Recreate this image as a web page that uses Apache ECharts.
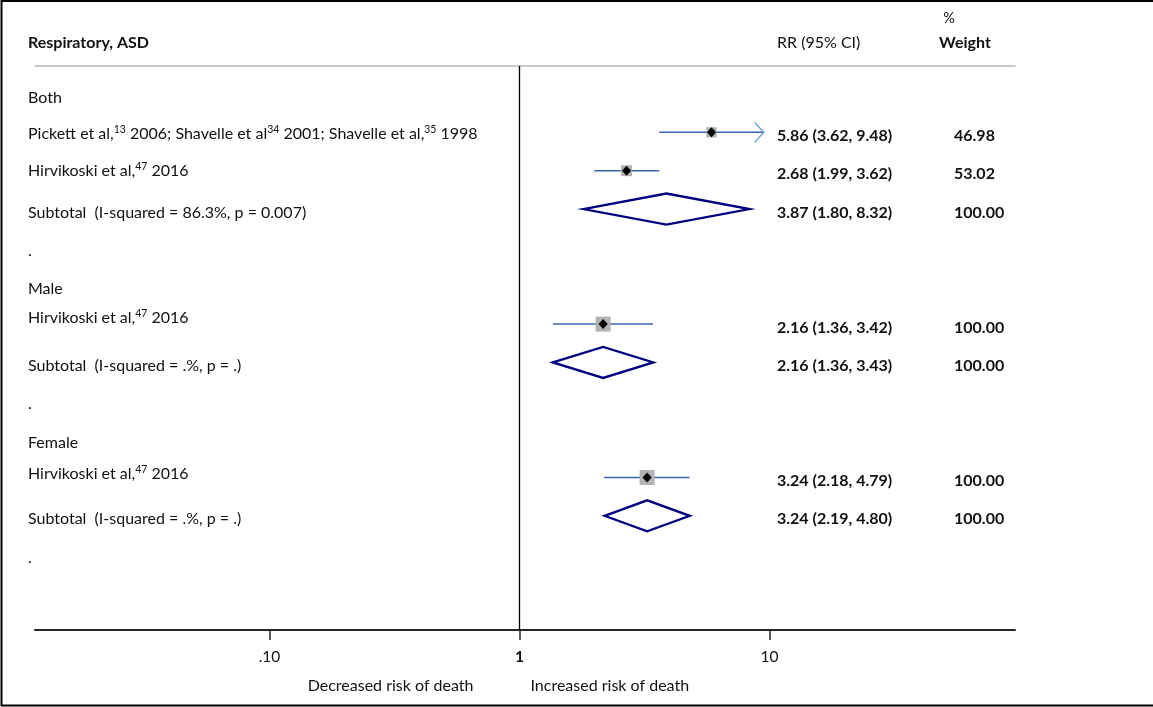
<!DOCTYPE html>
<html>
<head>
<meta charset="utf-8">
<title>Respiratory, ASD</title>
<script src="https://cdn.jsdelivr.net/npm/echarts@6/dist/echarts.min.js"></script>
<style>
  html, body { margin: 0; padding: 0; background: #fff; }
  #chart { width: 1153px; height: 707px; }
</style>
</head>
<body>
<div id="chart"></div>
<script>
// ---- data -------------------------------------------------------------
const groupNames = ['Both', 'Male', 'Female'];

const studyGroup  = [0, 0, 1, 2];
const studyLabels = [
  'Pickett et al,{sup|13} 2006; Shavelle et al{sup|34} 2001; Shavelle et al,{sup|35} 1998',
  'Hirvikoski et al,{sup|47} 2016',
  'Hirvikoski et al,{sup|47} 2016',
  'Hirvikoski et al,{sup|47} 2016'
];
const studyRR      = [5.86, 2.68, 2.16, 3.24];
const studyLow     = [3.62, 1.99, 1.36, 2.18];
const studyHigh    = [9.48, 3.62, 3.42, 4.79];
const studyWeight  = [46.98, 53.02, 100.00, 100.00];
const studyArrowHi = [true, false, false, false];

const subtotalLabels = [
  'Subtotal  (I-squared = 86.3%, p = 0.007)',
  'Subtotal  (I-squared = .%, p = .)',
  'Subtotal  (I-squared = .%, p = .)'
];
const subtotalRR     = [3.87, 2.16, 3.24];
const subtotalLow    = [1.80, 1.36, 2.19];
const subtotalHigh   = [8.32, 3.43, 4.80];
const subtotalWeight = [100.00, 100.00, 100.00];

const tickValues = [0.1, 1, 10];
const tickLabels = ['.10', '1', '10'];
const sideLabels = ['Decreased risk of death', 'Increased risk of death'];

const headerTitle  = 'Respiratory, ASD';
const headerEffect = 'RR (95% CI)';
const headerWeight = ['%', 'Weight'];

// ---- styling ----------------------------------------------------------
const FONT = 'Lato, "Open Sans", "DejaVu Sans", sans-serif';
const TEXT_COLOR = '#111';
const CI_COLOR = '#3d64ab';
const ARROW_COLOR = '#5b9bd5';
const BOX_COLOR = '#b3b3b3';
const DIAMOND_COLOR = '#000080';
const FS = 16;
const LABEL_X = 28, VALUE_X = 777, WEIGHT_X = 954;
const TEXT_DY = 3.5;                       // text sits a little below the mark row
const studyLabelDy = [1, 0, -6, -3.5];     // per-study vertical nudge of the left label

const fmt2 = v => v.toFixed(2);
const log = v => Math.log10(v);

// ---- table rows ---------------------------------------------------------
const studyData = [];
const subtotalData = [];
const textData = [];   // [row, labelIndex]
const textRows = [];
let row = 0;
groupNames.forEach((g, gi) => {
  textRows.push({ label: g, dy: TEXT_DY });
  textData.push([row++, textRows.length - 1]);
  studyGroup.forEach((sg, si) => {
    if (sg !== gi) return;
    studyData.push([row, log(studyLow[si]), log(studyRR[si]), log(studyHigh[si]),
                    studyWeight[si], studyArrowHi[si] ? 1 : 0]);
    textRows.push({
      label: studyLabels[si], dy: studyLabelDy[si],
      value: `${fmt2(studyRR[si])} (${fmt2(studyLow[si])}, ${fmt2(studyHigh[si])})`,
      weight: fmt2(studyWeight[si])
    });
    textData.push([row++, textRows.length - 1]);
  });
  subtotalData.push([row, log(subtotalLow[gi]), log(subtotalRR[gi]), log(subtotalHigh[gi])]);
  textRows.push({
    label: subtotalLabels[gi], dy: TEXT_DY,
    value: `${fmt2(subtotalRR[gi])} (${fmt2(subtotalLow[gi])}, ${fmt2(subtotalHigh[gi])})`,
    weight: fmt2(subtotalWeight[gi])
  });
  textData.push([row++, textRows.length - 1]);
  textRows.push({ label: '.', dy: TEXT_DY });
  textData.push([row++, textRows.length - 1]);
});

const richSup = {
  sup: { fontSize: 10.5, fontFamily: FONT, fill: TEXT_COLOR, padding: [0, 0, 8, 0] }
};

const chart = echarts.init(document.getElementById('chart'), null, { renderer: 'canvas' });

const xRange = { min: -1.938, max: 1.982 };

chart.setOption({
  animation: false,
  backgroundColor: '#fff',
  grid: { left: 35, right: 138, top: 66, bottom: 77 },
  xAxis: [
    {
      type: 'value', position: 'bottom', min: xRange.min, max: xRange.max,
      splitLine: { show: false },
      axisLine: { onZero: false, lineStyle: { color: '#262626', width: 2 } },
      axisTick: { customValues: tickValues.map(log), length: 10, lineStyle: { color: '#262626', width: 1.5 } },
      axisLabel: {
        customValues: tickValues.map(log),
        margin: 19,
        fontFamily: FONT, fontSize: FS - 0.5, color: TEXT_COLOR,
        formatter: v => {
          const i = tickValues.findIndex(t => Math.abs(log(t) - v) < 1e-6);
          const s = i >= 0 ? tickLabels[i] : '';
          return Math.abs(v) < 1e-9 ? `{b|${s}}` : s;
        },
        rich: { b: { fontWeight: 'bold', fontFamily: FONT, fontSize: FS - 0.5, color: TEXT_COLOR } }
      }
    },
    {
      type: 'value', position: 'top', min: xRange.min, max: xRange.max,
      splitLine: { show: false },
      axisLine: { onZero: false, lineStyle: { color: '#b8b8b8', width: 1.5 } },
      axisTick: { show: false },
      axisLabel: { show: false }
    }
  ],
  yAxis: {
    type: 'value', inverse: true, min: -0.730, max: 13.977, show: false
  },
  graphic: [
    { type: 'rect', silent: true, z: 100,
      shape: { x: 1.5, y: 1, width: 1200, height: 704.5 },
      style: { fill: 'none', stroke: '#000', lineWidth: 2 } },
    { type: 'text', x: LABEL_X, y: 43,
      style: { text: headerTitle, font: `bold ${FS}px ${FONT}`, fill: TEXT_COLOR,
               textAlign: 'left', textVerticalAlign: 'middle' } },
    { type: 'text', x: VALUE_X, y: 43,
      style: { text: headerEffect, font: `${FS}px ${FONT}`, fill: TEXT_COLOR,
               textAlign: 'left', textVerticalAlign: 'middle' } },
    { type: 'text', x: 949, y: 18,
      style: { text: headerWeight[0], font: `${FS - 1.5}px ${FONT}`, fill: TEXT_COLOR,
               textAlign: 'center', textVerticalAlign: 'middle' } },
    { type: 'text', x: 965, y: 43,
      style: { text: headerWeight[1], font: `bold ${FS}px ${FONT}`, fill: TEXT_COLOR,
               textAlign: 'center', textVerticalAlign: 'middle' } }
  ],
  series: [
    {
      // individual study estimates: CI line, weighted box, point marker
      name: 'studies', type: 'custom', silent: true, z: 3,
      encode: { x: [1, 2, 3], y: 0 },
      data: studyData,
      renderItem(params, api) {
        const r = api.value(0);
        const lo = api.coord([api.value(1), r]);
        const mid = api.coord([api.value(2), r]);
        const hi = api.coord([api.value(3), r]);
        const box = Math.sqrt(api.value(4)) * 1.5;
        const x = mid[0], y = mid[1];
        const children = [
          { type: 'line', shape: { x1: lo[0], y1: lo[1], x2: hi[0], y2: hi[1] },
            style: { stroke: CI_COLOR, lineWidth: 1.5 } },
          { type: 'rect', shape: { x: x - box / 2, y: y - box / 2, width: box, height: box },
            style: { fill: BOX_COLOR } },
          { type: 'polygon', shape: { points: [[x, y - 5], [x + 4.6, y], [x, y + 5], [x - 4.6, y]] },
            style: { fill: '#000' } }
        ];
        if (api.value(5)) {
          children.push({
            type: 'polyline',
            shape: { points: [[hi[0] - 9, hi[1] - 10], [hi[0], hi[1]], [hi[0] - 9, hi[1] + 10]] },
            style: { stroke: ARROW_COLOR, lineWidth: 1.3, fill: null }
          });
        }
        return { type: 'group', children };
      },
      markLine: {
        silent: true, symbol: 'none', label: { show: false },
        lineStyle: { color: '#000', width: 1.3, type: 'solid' },
        data: [{ xAxis: 0 }]
      }
    },
    {
      // pooled subgroup estimates as diamonds
      name: 'subtotals', type: 'custom', silent: true, z: 3,
      encode: { x: [1, 2, 3], y: 0 },
      data: subtotalData,
      renderItem(params, api) {
        const r = api.value(0);
        const lo = api.coord([api.value(1), r]);
        const mid = api.coord([api.value(2), r]);
        const hi = api.coord([api.value(3), r]);
        const h = 15.5;
        return {
          type: 'polygon',
          shape: { points: [[lo[0], lo[1]], [mid[0], mid[1] - h], [hi[0], hi[1]], [mid[0], mid[1] + h]] },
          style: { fill: '#fff', stroke: DIAMOND_COLOR, lineWidth: 2.3 }
        };
      }
    },
    {
      // table text: labels, effect sizes, weights
      name: 'table', type: 'custom', silent: true, z: 4, clip: false,
      encode: { y: 0 },
      data: textData,
      renderItem(params, api) {
        const r = api.value(0);
        const item = textRows[api.value(1)];
        const y = api.coord([0, r])[1];
        const children = [
          { type: 'text', x: LABEL_X, y: y + item.dy,
            style: { text: item.label, rich: richSup, font: `${FS}px ${FONT}`, fill: TEXT_COLOR,
                     textAlign: 'left', textVerticalAlign: 'middle' } }
        ];
        if (item.value) {
          children.push(
            { type: 'text', x: VALUE_X, y: y + TEXT_DY,
              style: { text: item.value, font: `bold ${FS}px ${FONT}`, fill: TEXT_COLOR,
                       textAlign: 'left', textVerticalAlign: 'middle' } },
            { type: 'text', x: WEIGHT_X, y: y + TEXT_DY,
              style: { text: item.weight, font: `bold ${FS}px ${FONT}`, fill: TEXT_COLOR,
                       textAlign: 'left', textVerticalAlign: 'middle' } }
          );
        }
        return { type: 'group', children };
      }
    },
    {
      // direction captions either side of the null line
      name: 'sides', type: 'custom', silent: true, z: 4, clip: false,
      encode: { x: 0 },
      data: [[0, 0], [0, 1]],
      renderItem(params, api) {
        const side = api.value(1);
        const cs = params.coordSys;
        const x0 = api.coord([api.value(0), 0])[0];
        return {
          type: 'text',
          x: side === 0 ? x0 - 46 : x0 + 11,
          y: cs.y + cs.height + 56,
          style: { text: sideLabels[side], font: `${FS}px ${FONT}`, fill: TEXT_COLOR,
                   textAlign: side === 0 ? 'right' : 'left', textVerticalAlign: 'middle' }
        };
      }
    }
  ]
});
</script>
</body>
</html>
